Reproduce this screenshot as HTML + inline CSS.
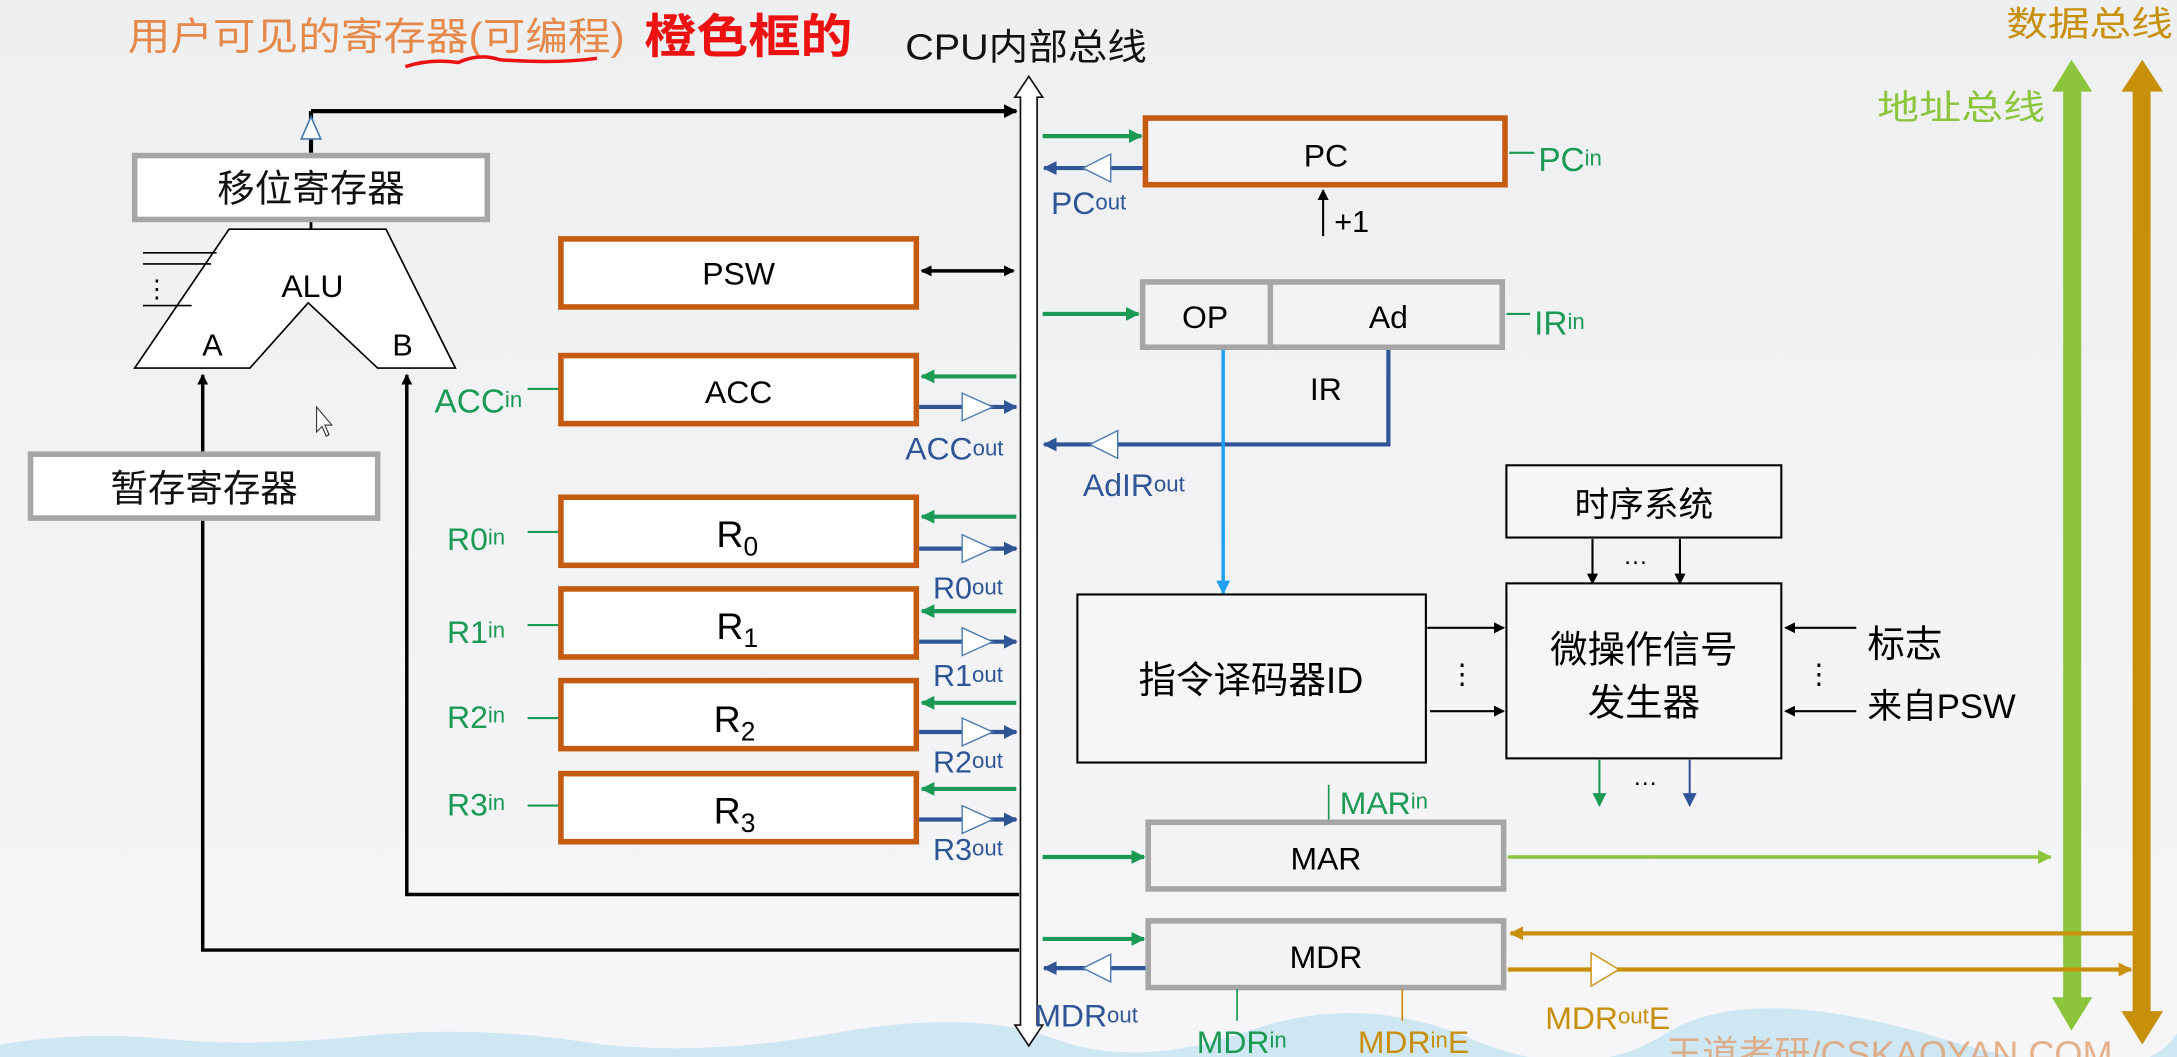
<!DOCTYPE html>
<html><head><meta charset="utf-8"><style>
html,body{margin:0;padding:0;width:2177px;height:1057px;overflow:hidden;background:#f1f2f4}
svg{display:block}
text{font-family:"Liberation Sans","Noto Sans CJK SC",sans-serif}
</style></head><body>
<svg width="2177" height="1057" viewBox="0 0 1568 761" preserveAspectRatio="none" xmlns="http://www.w3.org/2000/svg">
<defs>
<linearGradient id="bg" x1="0" y1="0" x2="0" y2="1"><stop offset="0" stop-color="#eeeff1"/><stop offset="1" stop-color="#f6f6f8"/></linearGradient>
<marker id="ak" markerWidth="8" markerHeight="8" refX="7" refY="4" orient="auto" markerUnits="userSpaceOnUse"><path d="M0,0 L8,4 L0,8 z" fill="#000"/></marker>
<marker id="akr" markerWidth="8" markerHeight="8" refX="7" refY="4" orient="auto-start-reverse" markerUnits="userSpaceOnUse"><path d="M0,0 L8,4 L0,8 z" fill="#000"/></marker>
<marker id="ak2" markerWidth="10" markerHeight="10" refX="9" refY="5" orient="auto" markerUnits="userSpaceOnUse"><path d="M0,0 L10,5 L0,10 z" fill="#000"/></marker>
<marker id="ag" markerWidth="10" markerHeight="10" refX="9" refY="5" orient="auto" markerUnits="userSpaceOnUse"><path d="M0,0 L10,5 L0,10 z" fill="#1a9a55"/></marker>
<marker id="ab" markerWidth="10" markerHeight="10" refX="9" refY="5" orient="auto" markerUnits="userSpaceOnUse"><path d="M0,0 L10,5 L0,10 z" fill="#2f5597"/></marker>
<marker id="alb" markerWidth="10" markerHeight="10" refX="9" refY="5" orient="auto" markerUnits="userSpaceOnUse"><path d="M0,0 L10,5 L0,10 z" fill="#1ea0f0"/></marker>
<marker id="alg" markerWidth="10" markerHeight="10" refX="9" refY="5" orient="auto" markerUnits="userSpaceOnUse"><path d="M0,0 L10,5 L0,10 z" fill="#8cc43c"/></marker>
<marker id="ao" markerWidth="10" markerHeight="10" refX="9" refY="5" orient="auto" markerUnits="userSpaceOnUse"><path d="M0,0 L10,5 L0,10 z" fill="#c8900a"/></marker>
</defs>
<rect width="1568" height="761" fill="url(#bg)"/>
<path d="M0,752 Q60,742 120,748 T260,746 T420,750 T600,744 T760,748 T900,742 T1060,748 T1200,744 T1400,748 T1568,744 L1568,761 L0,761z" fill="#cfe6f3"/>
<text x="1200" y="768" font-size="26" fill="#e0a070" opacity="0.8">王道考研/CSKAOYAN.COM</text>

<text x="92" y="36" font-size="28" fill="#e5894a" textLength="358" lengthAdjust="spacingAndGlyphs">用户可见的寄存器(可编程)</text>
<text x="464" y="38" font-size="34" font-weight="bold" fill="#ee1111" textLength="150" lengthAdjust="spacingAndGlyphs">橙色框的</text>
<path d="M292,48 Q310,42 330,45 Q345,38 360,43 Q400,46 430,42" fill="none" stroke="#ee1111" stroke-width="2.5"/>
<text x="652" y="43" font-size="26" fill="#111" textLength="174" lengthAdjust="spacingAndGlyphs">CPU内部总线</text>
<text x="1445" y="26" font-size="25" fill="#c8900a" textLength="120" lengthAdjust="spacingAndGlyphs">数据总线</text>
<text x="1352" y="86" font-size="25" fill="#8cc43c" textLength="121" lengthAdjust="spacingAndGlyphs">地址总线</text>

<path d="M735,738 L731,738 L741,753 L751,738 L747,738 L747,70 L751,70 L741,55 L731,70 L735,70 Z" fill="#fff" stroke="#111" stroke-width="1.2"/>

<rect x="1486" y="62" width="13" height="660" fill="#8cc43c"/>
<path d="M1478,66 L1492,43 L1507,66z M1478,718 L1492,742 L1507,718z" fill="#8cc43c"/>
<rect x="1536" y="62" width="13" height="670" fill="#c8900a"/>
<path d="M1528,66 L1543,43 L1558,66z M1528,728 L1543,752 L1558,728z" fill="#c8900a"/>

<line x1="224" y1="110" x2="224" y2="80" stroke="#000" stroke-width="3"/>
<path d="M217,100 L224,84 L231,100z" fill="#fff" stroke="#4a7ab0" stroke-width="1.2"/>
<line x1="224" y1="80" x2="732" y2="80" stroke="#000" stroke-width="3" marker-end="url(#ak2)"/>
<rect x="97" y="112" width="254" height="46" fill="#fff" stroke="#a6a6a6" stroke-width="4"/>
<text x="224" y="145" font-size="27" text-anchor="middle" fill="#111">移位寄存器</text>
<line x1="224" y1="160" x2="224" y2="165" stroke="#000" stroke-width="2"/>
<path d="M165,165 L278,165 L328,265 L272,265 L222,218 L180,265 L97,265 Z" fill="#fff" stroke="#000" stroke-width="1.2"/>
<line x1="103" y1="182" x2="156" y2="182" stroke="#000" stroke-width="1.2"/>
<line x1="103" y1="190" x2="152" y2="190" stroke="#000" stroke-width="1.2"/>
<line x1="103" y1="220" x2="138" y2="220" stroke="#000" stroke-width="1.2"/>
<text x="113" y="214" font-size="18" text-anchor="middle">⋮</text>
<text x="225" y="214" font-size="23" text-anchor="middle">ALU</text>
<text x="153" y="256" font-size="22" text-anchor="middle">A</text>
<text x="290" y="256" font-size="22" text-anchor="middle">B</text>
<rect x="22" y="327" width="250" height="46" fill="#fff" stroke="#a6a6a6" stroke-width="4"/>
<text x="147" y="361" font-size="27" text-anchor="middle" fill="#111">暂存寄存器</text>
<line x1="146" y1="325" x2="146" y2="270" stroke="#000" stroke-width="2.5" marker-end="url(#ak)"/>
<polyline points="734,684 146,684 146,375" fill="none" stroke="#000" stroke-width="2.5"/>
<polyline points="734,644 293,644 293,270" fill="none" stroke="#000" stroke-width="2.5" marker-end="url(#ak)"/>
<path d="M228,293 L228,311 L232,307 L235,314 L237,313 L234,306 L239,306 Z" fill="#fff" stroke="#333" stroke-width="0.8"/>

<rect x="404" y="172" width="256" height="49" fill="#fff" stroke="#c55a11" stroke-width="4"/>
<text x="532" y="205" font-size="23" text-anchor="middle">PSW</text>
<line x1="664" y1="195" x2="730" y2="195" stroke="#000" stroke-width="2.5" marker-end="url(#akr)" marker-start="url(#akr)"/>

<rect x="404" y="256" width="256" height="49" fill="#fff" stroke="#c55a11" stroke-width="4"/>
<text x="532" y="290" font-size="23" text-anchor="middle">ACC</text>
<line x1="380" y1="280" x2="402" y2="280" stroke="#1a9a55" stroke-width="1.5"/>
<text x="313" y="297" font-size="24" fill="#1a9a55">ACC<tspan font-size="16" dy="-4">in</tspan></text>
<line x1="732" y1="271" x2="664" y2="271" stroke="#1a9a55" stroke-width="3" marker-end="url(#ag)"/>
<line x1="662" y1="293" x2="732" y2="293" stroke="#2f5597" stroke-width="3" marker-end="url(#ab)"/>
<path d="M693,283 L715,293 L693,303z" fill="#fff" stroke="#4a7ab0" stroke-width="1"/>
<text x="652" y="331" font-size="23" fill="#2f5597">ACC<tspan font-size="16" dy="-3">out</tspan></text>

<g font-size="23">
<rect x="404" y="358" width="256" height="49" fill="#fff" stroke="#c55a11" stroke-width="4"/>
<text x="516" y="394" font-family="Liberation Serif,serif" font-size="27">R<tspan font-size="19" dy="6">0</tspan></text>
<line x1="380" y1="383" x2="402" y2="383" stroke="#1a9a55" stroke-width="1.5"/>
<text x="322" y="396" fill="#1a9a55">R0<tspan font-size="16" dy="-4">in</tspan></text>
<line x1="732" y1="372" x2="664" y2="372" stroke="#1a9a55" stroke-width="3" marker-end="url(#ag)"/>
<line x1="662" y1="395" x2="732" y2="395" stroke="#2f5597" stroke-width="3" marker-end="url(#ab)"/>
<path d="M693,385 L715,395 L693,405z" fill="#fff" stroke="#4a7ab0" stroke-width="1"/>
<text x="672" y="431" font-size="22" fill="#2f5597">R0<tspan font-size="16" dy="-3">out</tspan></text>
<rect x="404" y="424" width="256" height="49" fill="#fff" stroke="#c55a11" stroke-width="4"/>
<text x="516" y="460" font-family="Liberation Serif,serif" font-size="27">R<tspan font-size="19" dy="6">1</tspan></text>
<line x1="380" y1="450" x2="402" y2="450" stroke="#1a9a55" stroke-width="1.5"/>
<text x="322" y="463" fill="#1a9a55">R1<tspan font-size="16" dy="-4">in</tspan></text>
<line x1="732" y1="440" x2="664" y2="440" stroke="#1a9a55" stroke-width="3" marker-end="url(#ag)"/>
<line x1="662" y1="462" x2="732" y2="462" stroke="#2f5597" stroke-width="3" marker-end="url(#ab)"/>
<path d="M693,452 L715,462 L693,472z" fill="#fff" stroke="#4a7ab0" stroke-width="1"/>
<text x="672" y="494" font-size="22" fill="#2f5597">R1<tspan font-size="16" dy="-3">out</tspan></text>
<rect x="404" y="490" width="256" height="49" fill="#fff" stroke="#c55a11" stroke-width="4"/>
<text x="514" y="527" font-family="Liberation Serif,serif" font-size="27">R<tspan font-size="19" dy="6">2</tspan></text>
<line x1="380" y1="517" x2="402" y2="517" stroke="#1a9a55" stroke-width="1.5"/>
<text x="322" y="524" fill="#1a9a55">R2<tspan font-size="16" dy="-4">in</tspan></text>
<line x1="732" y1="506" x2="664" y2="506" stroke="#1a9a55" stroke-width="3" marker-end="url(#ag)"/>
<line x1="662" y1="527" x2="732" y2="527" stroke="#2f5597" stroke-width="3" marker-end="url(#ab)"/>
<path d="M693,517 L715,527 L693,537z" fill="#fff" stroke="#4a7ab0" stroke-width="1"/>
<text x="672" y="556" font-size="22" fill="#2f5597">R2<tspan font-size="16" dy="-3">out</tspan></text>
<rect x="404" y="557" width="256" height="49" fill="#fff" stroke="#c55a11" stroke-width="4"/>
<text x="514" y="593" font-family="Liberation Serif,serif" font-size="27">R<tspan font-size="19" dy="6">3</tspan></text>
<line x1="380" y1="580" x2="402" y2="580" stroke="#1a9a55" stroke-width="1.5"/>
<text x="322" y="587" fill="#1a9a55">R3<tspan font-size="16" dy="-4">in</tspan></text>
<line x1="732" y1="568" x2="664" y2="568" stroke="#1a9a55" stroke-width="3" marker-end="url(#ag)"/>
<line x1="662" y1="590" x2="732" y2="590" stroke="#2f5597" stroke-width="3" marker-end="url(#ab)"/>
<path d="M693,580 L715,590 L693,600z" fill="#fff" stroke="#4a7ab0" stroke-width="1"/>
<text x="672" y="619" font-size="22" fill="#2f5597">R3<tspan font-size="16" dy="-3">out</tspan></text>
</g>

<rect x="825" y="85" width="259" height="48" fill="#f3f3f5" stroke="#c55a11" stroke-width="4"/>
<text x="955" y="120" font-size="23" text-anchor="middle">PC</text>
<line x1="751" y1="98" x2="822" y2="98" stroke="#1a9a55" stroke-width="3" marker-end="url(#ag)"/>
<line x1="823" y1="121" x2="752" y2="121" stroke="#2f5597" stroke-width="3" marker-end="url(#ab)"/>
<path d="M800,111 L780,121 L800,131z" fill="#fff" stroke="#4a7ab0" stroke-width="1"/>
<text x="757" y="154" font-size="23" fill="#2f5597">PC<tspan font-size="16" dy="-3">out</tspan></text>
<line x1="1087" y1="110" x2="1105" y2="110" stroke="#1a9a55" stroke-width="1.5"/>
<text x="1108" y="123" font-size="24" fill="#1a9a55">PC<tspan font-size="16" dy="-4">in</tspan></text>
<line x1="953" y1="170" x2="953" y2="137" stroke="#000" stroke-width="1.5" marker-end="url(#ak)"/>
<text x="961" y="167" font-size="22">+1</text>

<rect x="823" y="203" width="259" height="47" fill="#f3f3f5" stroke="#a6a6a6" stroke-width="4"/>
<line x1="915" y1="203" x2="915" y2="250" stroke="#a6a6a6" stroke-width="4"/>
<text x="868" y="236" font-size="23" text-anchor="middle">OP</text>
<text x="1000" y="236" font-size="23" text-anchor="middle">Ad</text>
<text x="955" y="288" font-size="23" text-anchor="middle">IR</text>
<line x1="751" y1="226" x2="820" y2="226" stroke="#1a9a55" stroke-width="3" marker-end="url(#ag)"/>
<line x1="1085" y1="226" x2="1102" y2="226" stroke="#1a9a55" stroke-width="1.5"/>
<text x="1105" y="241" font-size="24" fill="#1a9a55">IR<tspan font-size="16" dy="-4">in</tspan></text>
<polyline points="1000,252 1000,320 752,320" fill="none" stroke="#2f5597" stroke-width="3" marker-end="url(#ab)"/>
<path d="M805,310 L785,320 L805,330z" fill="#fff" stroke="#4a7ab0" stroke-width="1"/>
<text x="780" y="357" font-size="23" fill="#2f5597">AdIR<tspan font-size="16" dy="-3">out</tspan></text>
<line x1="881" y1="252" x2="881" y2="427" stroke="#1ea0f0" stroke-width="2.5" marker-end="url(#alb)"/>

<rect x="776" y="428" width="251" height="121" fill="#f6f6f8" stroke="#000" stroke-width="1.5"/>
<text x="901" y="499" font-size="27" text-anchor="middle">指令译码器ID</text>
<rect x="1085" y="335" width="198" height="52" fill="#f6f6f8" stroke="#000" stroke-width="1.5"/>
<text x="1184" y="372" font-size="25" text-anchor="middle">时序系统</text>
<line x1="1147" y1="388" x2="1147" y2="420" stroke="#000" stroke-width="1.5" marker-end="url(#ak)"/>
<line x1="1210" y1="388" x2="1210" y2="420" stroke="#000" stroke-width="1.5" marker-end="url(#ak)"/>
<text x="1178" y="406" font-size="18" text-anchor="middle">…</text>
<rect x="1085" y="420" width="198" height="126" fill="#f6f6f8" stroke="#000" stroke-width="1.5"/>
<text x="1184" y="477" font-size="27" text-anchor="middle">微操作信号</text>
<text x="1184" y="515" font-size="27" text-anchor="middle">发生器</text>
<line x1="1028" y1="452" x2="1083" y2="452" stroke="#000" stroke-width="1.5" marker-end="url(#ak)"/>
<line x1="1030" y1="512" x2="1083" y2="512" stroke="#000" stroke-width="1.5" marker-end="url(#ak)"/>
<text x="1053" y="492" font-size="20" text-anchor="middle">⋮</text>
<line x1="1337" y1="452" x2="1286" y2="452" stroke="#000" stroke-width="1.5" marker-end="url(#ak)"/>
<line x1="1337" y1="512" x2="1286" y2="512" stroke="#000" stroke-width="1.5" marker-end="url(#ak)"/>
<text x="1310" y="492" font-size="20" text-anchor="middle">⋮</text>
<text x="1345" y="473" font-size="27">标志</text>
<text x="1345" y="517" font-size="25">来自PSW</text>
<line x1="1152" y1="547" x2="1152" y2="580" stroke="#1a9a55" stroke-width="1.5" marker-end="url(#ag)"/>
<line x1="1217" y1="547" x2="1217" y2="580" stroke="#2f5597" stroke-width="1.5" marker-end="url(#ab)"/>
<text x="1185" y="565" font-size="18" text-anchor="middle">…</text>

<rect x="827" y="592" width="256" height="48" fill="#f3f3f5" stroke="#a6a6a6" stroke-width="4"/>
<text x="955" y="626" font-size="23" text-anchor="middle">MAR</text>
<line x1="957" y1="565" x2="957" y2="590" stroke="#1a9a55" stroke-width="1.2"/>
<text x="965" y="586" font-size="23" fill="#1a9a55">MAR<tspan font-size="16" dy="-4">in</tspan></text>
<line x1="751" y1="617" x2="824" y2="617" stroke="#1a9a55" stroke-width="3" marker-end="url(#ag)"/>
<line x1="1086" y1="617" x2="1477" y2="617" stroke="#8cc43c" stroke-width="2.5" marker-end="url(#alg)"/>

<rect x="827" y="663" width="256" height="48" fill="#f3f3f5" stroke="#a6a6a6" stroke-width="4"/>
<text x="955" y="697" font-size="23" text-anchor="middle">MDR</text>
<line x1="751" y1="676" x2="824" y2="676" stroke="#1a9a55" stroke-width="3" marker-end="url(#ag)"/>
<line x1="825" y1="697" x2="752" y2="697" stroke="#2f5597" stroke-width="3" marker-end="url(#ab)"/>
<path d="M800,687 L780,697 L800,707z" fill="#fff" stroke="#4a7ab0" stroke-width="1"/>
<text x="745" y="739" font-size="23" fill="#2f5597">MDR<tspan font-size="16" dy="-3">out</tspan></text>
<line x1="891" y1="712" x2="891" y2="735" stroke="#1a9a55" stroke-width="1.2"/>
<text x="862" y="758" font-size="23" fill="#1a9a55">MDR<tspan font-size="16" dy="-4">in</tspan></text>
<line x1="1010" y1="712" x2="1010" y2="735" stroke="#c8900a" stroke-width="1.2"/>
<text x="978" y="758" font-size="23" fill="#c8900a">MDR<tspan font-size="16" dy="-4">in</tspan><tspan dy="4">E</tspan></text>
<line x1="1536" y1="672" x2="1088" y2="672" stroke="#c8900a" stroke-width="3" marker-end="url(#ao)"/>
<line x1="1086" y1="698" x2="1535" y2="698" stroke="#c8900a" stroke-width="3" marker-end="url(#ao)"/>
<path d="M1146,686 L1166,698 L1146,710z" fill="#fff" stroke="#c8900a" stroke-width="1"/>
<text x="1113" y="741" font-size="23" fill="#c8900a">MDR<tspan font-size="16" dy="-4">out</tspan><tspan dy="4">E</tspan></text>
</svg>
</body></html>
